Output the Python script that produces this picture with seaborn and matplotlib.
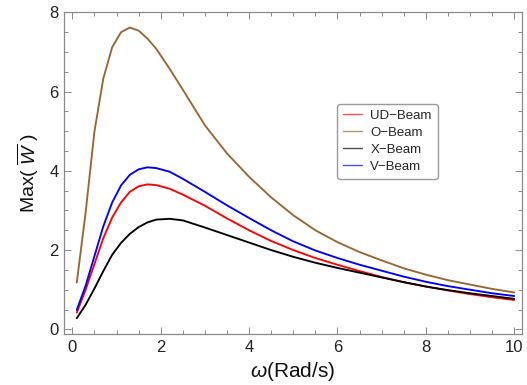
import matplotlib
matplotlib.use("Agg")
import matplotlib.pyplot as plt
from matplotlib.ticker import MultipleLocator
import pandas as pd
import seaborn as sns

# Frequency samples (rad/s)
omega = [0.1, 0.3, 0.5, 0.7, 0.9, 1.1, 1.3, 1.5, 1.7, 1.9, 2.2, 2.5,
         3.0, 3.5, 4.0, 4.5, 5.0, 5.5, 6.0, 6.5, 7.0, 7.5, 8.0, 8.5,
         9.0, 9.5, 10.0]

# Maximum non-dimensional deflection for each beam type
ud_beam = [0.42, 1.00, 1.65, 2.30, 2.82, 3.20, 3.47, 3.61, 3.66, 3.64, 3.55, 3.40,
           3.12, 2.80, 2.50, 2.23, 2.00, 1.80, 1.63, 1.47, 1.32, 1.19, 1.08, 0.98,
           0.89, 0.81, 0.74]
o_beam = [1.18, 2.95, 5.00, 6.33, 7.12, 7.50, 7.62, 7.54, 7.34, 7.08, 6.58, 6.05,
          5.15, 4.44, 3.85, 3.33, 2.88, 2.50, 2.20, 1.95, 1.74, 1.54, 1.38, 1.24,
          1.13, 1.02, 0.93]
x_beam = [0.28, 0.62, 1.03, 1.47, 1.88, 2.18, 2.41, 2.58, 2.70, 2.77, 2.79, 2.75,
          2.57, 2.38, 2.19, 2.00, 1.83, 1.68, 1.55, 1.43, 1.31, 1.19, 1.08, 0.99,
          0.91, 0.84, 0.77]
v_beam = [0.49, 1.10, 1.85, 2.60, 3.20, 3.63, 3.90, 4.04, 4.09, 4.07, 3.98, 3.80,
          3.47, 3.13, 2.81, 2.50, 2.22, 1.99, 1.80, 1.63, 1.48, 1.33, 1.20, 1.09,
          1.00, 0.91, 0.84]

series_names = ["UD\u2212Beam", "O\u2212Beam", "X\u2212Beam", "V\u2212Beam"]
series_values = [ud_beam, o_beam, x_beam, v_beam]
series_colors = ["#ff0000", "#996633", "#000000", "#0000ff"]

df = pd.concat(
    [pd.DataFrame({"omega": omega, "W": vals, "beam": name})
     for name, vals in zip(series_names, series_values)],
    ignore_index=True,
)

sns.set_style("ticks")
plt.rcParams["font.family"] = ["Liberation Sans", "DejaVu Sans"]
plt.rcParams["mathtext.fontset"] = "custom"
plt.rcParams["mathtext.rm"] = "Liberation Sans"
plt.rcParams["mathtext.it"] = "Liberation Sans:italic"

fig = plt.figure(figsize=(5.27, 3.85), dpi=100)
ax = fig.add_axes([0.1214, 0.1317, 0.8686, 0.8380])

sns.lineplot(
    data=df, x="omega", y="W", hue="beam",
    hue_order=series_names,
    palette=dict(zip(series_names, series_colors)),
    sort=False, estimator=None, linewidth=1.35, ax=ax, legend=True,
)

ax.set_xlim(-0.19, 10.17)
ax.set_ylim(-0.126, 8.02)
ax.xaxis.set_major_locator(MultipleLocator(2))
ax.xaxis.set_minor_locator(MultipleLocator(0.5))
ax.yaxis.set_major_locator(MultipleLocator(2))
ax.yaxis.set_minor_locator(MultipleLocator(0.5))

frame_color = "#8a8a8a"
for sp in ax.spines.values():
    sp.set_color(frame_color)
    sp.set_linewidth(0.9)
ax.tick_params(which="both", direction="in", top=True, right=True,
               color=frame_color, width=0.7)
ax.tick_params(which="major", length=5, labelsize=12, labelcolor="#222222", pad=4)
ax.tick_params(which="minor", length=2.8)

ax.set_xlabel(r"$\omega$(Rad/s)", fontsize=15, color="#111111", labelpad=4)
ax.set_ylabel(r"Max( $\overline{W}$ )", fontsize=14, color="#111111", labelpad=6)

leg = ax.legend(
    loc="upper left", bbox_to_anchor=(0.597, 0.714), borderaxespad=0,
    frameon=True, fontsize=9.5, handlelength=1.45, handletextpad=0.6,
    borderpad=0.45, labelspacing=0.35, fancybox=True, framealpha=1,
)
leg.get_frame().set_edgecolor("#999999")
leg.get_frame().set_linewidth(1.0)
for line in leg.get_lines():
    line.set_linewidth(1.0)
    line.set_alpha(0.7)

fig.savefig("out.png", dpi=100)
